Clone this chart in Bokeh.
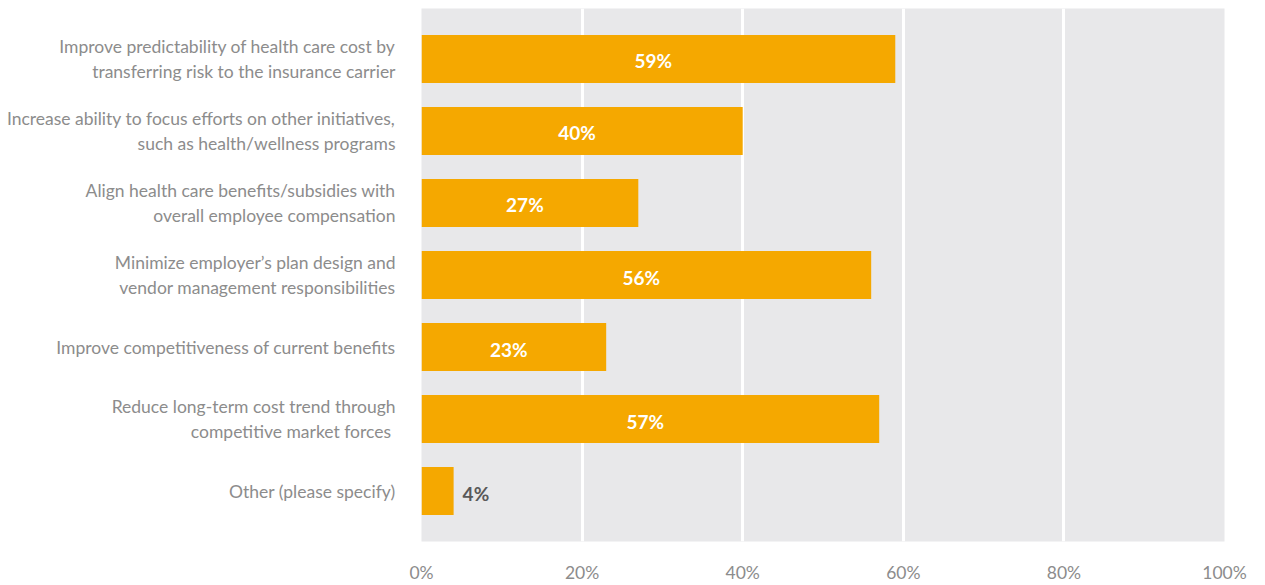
from bokeh.plotting import figure
from bokeh.models import ColumnDataSource, Range1d, FixedTicker
from bokeh.core.properties import value
from bokeh.embed import file_html
from bokeh.resources import INLINE

categories = [
    "Improve predictability of health care cost by\ntransferring risk to the insurance carrier",
    "Increase ability to focus efforts on other initiatives,\nsuch as health/wellness programs",
    "Align health care benefits/subsidies with\noverall employee compensation",
    "Minimize employer\u2019s plan design and\nvendor management responsibilities",
    "Improve competitiveness of current benefits",
    "Reduce long-term cost trend through\ncompetitive market forces ",
    "Other (please specify)",
]
values = [59, 40, 27, 56, 23, 57, 4]
x_ticks = [0, 20, 40, 60, 80, 100]

FONT = "Lato"
idx = list(range(len(categories)))

p = figure(width=1265, height=585, output_backend="svg", toolbar_location=None,
           x_range=Range1d(0, 100), y_range=Range1d(len(categories) - 0.3, -0.7),
           min_border_left=421, min_border_right=41, min_border_top=8, min_border_bottom=44)
p.background_fill_color = "#E8E8EA"
p.border_fill_color = "white"
p.outline_line_color = None

p.xgrid.ticker = FixedTicker(ticks=x_ticks)
p.xgrid.grid_line_color = "white"
p.xgrid.grid_line_width = 3
p.ygrid.grid_line_color = None

src = ColumnDataSource(dict(y=idx, v=values))
p.hbar(y="y", right="v", left=0, height=0.667, source=src, color="#F5A800", line_color=None)

inside = [i for i, v in enumerate(values) if v >= 10]
outside = [i for i, v in enumerate(values) if v < 10]
src_in = ColumnDataSource(dict(y=[idx[i] for i in inside], x=[values[i] / 2 for i in inside],
                               t=[f"{values[i]}%" for i in inside]))
src_out = ColumnDataSource(dict(y=[idx[i] for i in outside], x=[values[i] for i in outside],
                                t=[f"{values[i]}%" for i in outside]))
p.text(x="x", y="y", text="t", source=src_in, text_color="white", text_font=value(FONT),
       text_font_style="bold", text_font_size="19px", text_align="center",
       text_baseline="middle", x_offset=-5, y_offset=2)
p.text(x="x", y="y", text="t", source=src_out, text_color="#595959", text_font=value(FONT),
       text_font_style="bold", text_font_size="19px", text_align="left",
       text_baseline="middle", x_offset=9, y_offset=2)

p.xaxis.ticker = FixedTicker(ticks=x_ticks)
p.xaxis.major_label_overrides = {t: f"{t}%" for t in x_ticks}
p.xaxis.axis_line_color = None
p.xaxis.major_tick_line_color = None
p.xaxis.minor_tick_line_color = None
p.xaxis.major_label_text_color = "#8C8C8C"
p.xaxis.major_label_text_font = FONT
p.xaxis.major_label_text_font_size = "17.5px"
p.xaxis.major_label_standoff = 14

p.yaxis.ticker = FixedTicker(ticks=idx)
p.yaxis.major_label_overrides = {i: c for i, c in enumerate(categories)}
p.yaxis.axis_line_color = None
p.yaxis.major_tick_line_color = None
p.yaxis.minor_tick_line_color = None
p.yaxis.major_label_text_color = "#8C8C8C"
p.yaxis.major_label_text_font = FONT
p.yaxis.major_label_text_font_size = "17.5px"
p.yaxis.major_label_text_align = "right"
p.yaxis.major_label_standoff = 20

open("out.html", "w").write(file_html(p, INLINE))
